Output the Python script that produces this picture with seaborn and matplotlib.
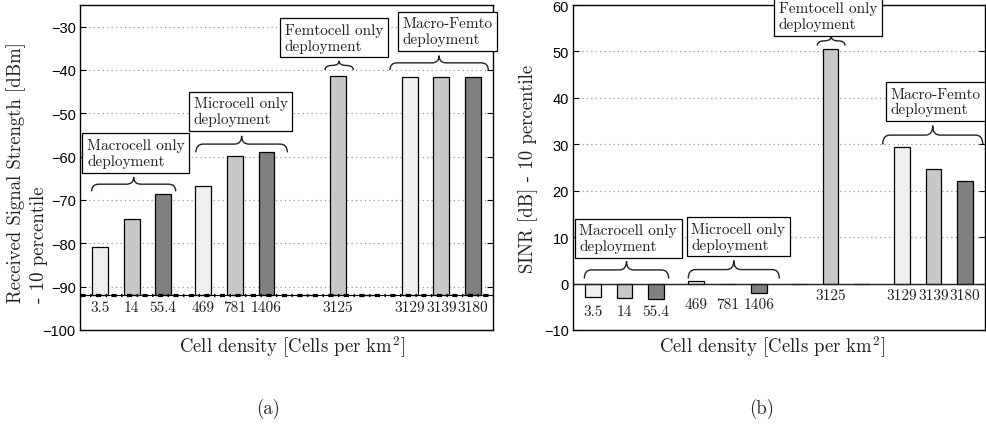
import numpy as np
import pandas as pd
import matplotlib
matplotlib.use("Agg")
import matplotlib.pyplot as plt
import seaborn as sns
from matplotlib.path import Path
from matplotlib.patches import PathPatch

# ---------------- data ----------------
groups = ["Macrocell only", "Microcell only", "Femtocell only", "Macro-Femto"]
slots = ["1", "2", "3"]
densities = [["3.5", "14", "55.4"],
             ["469", "781", "1406"],
             ["", "3125", ""],
             ["3129", "3139", "3180"]]
rss_baseline = -92.0
rss_values = [[-80.8, -74.4, -68.6],
              [-66.8, -59.8, -59.0],
              [-92.0, -41.4, -92.0],
              [-41.6, -41.7, -41.7]]
sinr_values = [[-2.95, -3.1, -3.4],
               [0.6, -0.15, -2.0],
               [0.0, 50.5, 0.0],
               [29.5, 24.7, 22.2]]
box_texts = ["Macrocell only\ndeployment", "Microcell only\ndeployment",
             "Femtocell only\ndeployment", "Macro-Femto\ndeployment"]
rss_ticks = [-100, -90, -80, -70, -60, -50, -40, -30]
sinr_ticks = [-10, 0, 10, 20, 30, 40, 50, 60]
bar_colors = ["#efefef", "#c8c8c8", "#808080"]

rows = []
for gi, g in enumerate(groups):
    for si, s in enumerate(slots):
        rows.append(dict(group=g, slot=s, rss=rss_values[gi][si],
                         sinr=sinr_values[gi][si], density=densities[gi][si]))
df = pd.DataFrame(rows)
df["rss_height"] = df["rss"] - rss_baseline

# ---------------- style ----------------
sns.set_style("white")
plt.rcParams["font.family"] = ["Liberation Sans", "DejaVu Sans"]
plt.rcParams["mathtext.fontset"] = "cm"
SERIF = "cmr10"

W, H = 987, 427
fig = plt.figure(figsize=(W / 100, H / 100), dpi=100)
ax1 = fig.add_axes([80 / W, (H - 331) / H, 413 / W, 325 / H])
ax2 = fig.add_axes([573 / W, (H - 331) / H, 412 / W, 325 / H])

common = dict(x="group", hue="slot", order=groups, hue_order=slots,
              palette=bar_colors, width=0.92, gap=0.5, dodge=True,
              errorbar=None, edgecolor="black", linewidth=0.9, legend=False)
sns.barplot(data=df, y="rss_height", bottom=rss_baseline, ax=ax1, **common)
sns.barplot(data=df, y="sinr", ax=ax2, **common)


def bar_centers(ax):
    xs = sorted(p.get_x() + p.get_width() / 2 for p in ax.patches)
    return xs


def brace(ax, x0, x1, y_end, y_tip):
    xm = (x0 + x1) / 2
    ym = (y_end + y_tip) / 2
    r = min(0.07, (x1 - x0) / 4)
    verts = [(x0, y_end), (x0, ym), (x0 + r, ym), (xm - r, ym),
             (xm, ym), (xm, y_tip), (xm, ym), (xm + r, ym),
             (x1 - r, ym), (x1, ym), (x1, y_end)]
    codes = [Path.MOVETO, Path.CURVE3, Path.CURVE3, Path.LINETO,
             Path.CURVE3, Path.CURVE3, Path.CURVE3, Path.CURVE3,
             Path.LINETO, Path.CURVE3, Path.CURVE3]
    ax.add_patch(PathPatch(Path(verts, codes), fc="none", ec="#222222",
                           lw=1.0, zorder=4, clip_on=False))


def box(ax, x, y, text):
    ax.text(x, y, text, ha="left", va="bottom", family=SERIF, fontsize=11,
            color="#222222", linespacing=1.15, zorder=6,
            bbox=dict(boxstyle="square,pad=0.3", fc="white", ec="black", lw=0.9))


for ax, ylim, ticks in [(ax1, (-100, -25), rss_ticks), (ax2, (-10, 60), sinr_ticks)]:
    ax.set_xlim(-0.5, 3.5)
    ax.set_ylim(*ylim)
    ax.set_yticks(ticks)
    ax.set_xlabel("")
    ax.set_ylabel("")
    ax.yaxis.grid(True, ls=(0, (1, 3)), color="#888888", lw=0.8)
    ax.xaxis.grid(False)
    ax.set_axisbelow(True)
    ax.tick_params(axis="y", direction="in", left=True, right=True, length=4,
                   width=0.8, labelsize=10.5, pad=3, colors="black")
    ax.tick_params(axis="x", bottom=False, labelbottom=False)
    for sp in ax.spines.values():
        sp.set_visible(True)
        sp.set_color("black")
        sp.set_linewidth(1.0)

# ---- left panel extras ----
ax1.axhline(rss_baseline, color="black", lw=0.8, zorder=3)
ax1.axhline(rss_baseline, color="black", lw=2.3, zorder=3,
            ls=(0, (1.6, 1.4, 0.45, 1.4)))
c1 = bar_centers(ax1)
for gi in range(4):
    for si in range(3):
        lab = densities[gi][si]
        if lab:
            ax1.annotate(lab, xy=(c1[3 * gi + si], rss_baseline), xytext=(0, -3.5),
                         textcoords="offset points", ha="center", va="top",
                         family=SERIF, fontsize=11, color="#222222")

brace(ax1, -0.387, 0.427, -68.0, -64.7)
brace(ax1, 0.623, 1.508, -59.0, -55.2)
brace(ax1, 1.873, 2.147, -40.0, -37.9)
brace(ax1, 2.502, 3.454, -40.0, -36.7)
box(ax1, -0.432, -62.6, box_texts[0])
box(ax1, 0.601, -53.0, box_texts[1])
box(ax1, 1.482, -36.0, box_texts[2])
box(ax1, 2.622, -34.5, box_texts[3])

# ---- right panel extras ----
ax2.axhline(0, color="#222222", lw=1.0, zorder=1.5)
c2 = bar_centers(ax2)
for gi in range(4):
    gmin = min(0.0, min(sinr_values[gi]))
    for si in range(3):
        lab = densities[gi][si]
        if lab:
            ax2.annotate(lab, xy=(c2[3 * gi + si], gmin), xytext=(0, -3.5),
                         textcoords="offset points", ha="center", va="top",
                         family=SERIF, fontsize=11, color="#222222")

brace(ax2, -0.39, 0.429, 1.08, 4.8)
brace(ax2, 0.619, 1.503, 1.08, 4.95)
brace(ax2, 1.872, 2.141, 51.25, 53.3)
brace(ax2, 2.507, 3.478, 29.96, 34.0)
box(ax2, -0.438, 6.5, box_texts[0])
box(ax2, 0.649, 6.85, box_texts[1])
box(ax2, 1.500, 54.4, box_texts[2])
box(ax2, 2.581, 36.0, box_texts[3])

# ---- labels ----
fig.text(27 / W, 1 - 303 / H, "Received Signal Strength [dBm]\n- 10 percentile",
         rotation=90, ha="center", va="bottom", multialignment="left",
         family=SERIF, fontsize=13.5, linespacing=1.3, color="#222222")
fig.text(528 / W, 1 - 168.5 / H, "SINR [dB] - 10 percentile", rotation=90,
         ha="center", va="center", family=SERIF, fontsize=13.5, color="#222222")
fig.text(292 / W, 1 - 347 / H, "Cell density [Cells per km$^2$]", ha="center",
         va="center", family=SERIF, fontsize=13.5, color="#222222")
fig.text(772 / W, 1 - 347 / H, "Cell density [Cells per km$^2$]", ha="center",
         va="center", family=SERIF, fontsize=13.5, color="#222222")
fig.text(268 / W, 1 - 409 / H, "(a)", ha="center", va="center",
         family=SERIF, fontsize=13.5, color="#222222")
fig.text(762 / W, 1 - 409 / H, "(b)", ha="center", va="center",
         family=SERIF, fontsize=13.5, color="#222222")

fig.savefig("out.png", dpi=100, facecolor="white")
